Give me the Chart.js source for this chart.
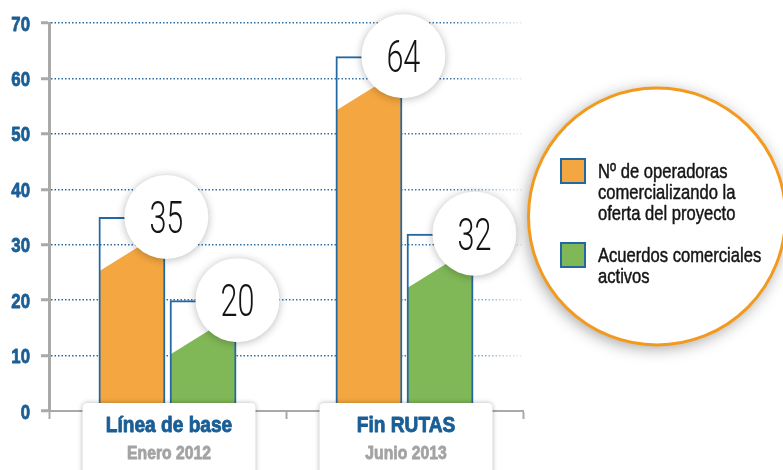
<!DOCTYPE html>
<html>
<head>
<meta charset="utf-8">
<script src="https://cdn.jsdelivr.net/npm/chart.js@4"></script>
<style>
  html, body { margin: 0; padding: 0; background: #fff; }
  #wrap { width: 783px; height: 470px; position: relative; }
</style>
</head>
<body>
<div id="wrap"><canvas id="myChart" width="783" height="470"></canvas></div>
<script>
// data
const categories = ['Línea de base', 'Fin RUTAS'];
const periods = ['Enero 2012', 'Junio 2013'];
const operadoras = [35, 64];
const acuerdos = [20, 32];
const seriesLabels = [
    ['Nº de operadoras', 'comercializando la', 'oferta del proyecto'],
    ['Acuerdos comerciales', 'activos']
];
const yTicks = [0, 10, 20, 30, 40, 50, 60, 70];

const ORANGE = '#f4a640';
const GREEN = '#80b757';
const BLUE = '#2468a2';
const LABEL_BLUE = '#1a5e96';
const GRAY = '#a9a9a9';
const SANS = '"Liberation Sans", Arial, sans-serif';

// no condensed face is installed, so squeeze text horizontally
// (heavy > 0 adds a thin outline to fake a blacker weight)
function narrowText(ctx, text, x, y, font, color, squeeze, align, heavy) {
    ctx.save();
    ctx.font = font;
    ctx.fillStyle = color;
    ctx.textAlign = align || 'left';
    ctx.textBaseline = 'alphabetic';
    ctx.translate(x, y);
    ctx.scale(squeeze, 1);
    ctx.fillText(text, 0, 0);
    if (heavy) {
        ctx.strokeStyle = color;
        ctx.lineWidth = heavy;
        ctx.lineJoin = 'round';
        ctx.strokeText(text, 0, 0);
    }
    ctx.restore();
}

// fill of each bar stops below the top and slants up under the value bubble
const barFill = {
    id: 'barFill',
    beforeDatasetsDraw(chart) {
        const ctx = chart.ctx;
        const colors = [ORANGE, GREEN];
        chart.data.datasets.forEach((ds, i) => {
            chart.getDatasetMeta(i).data.forEach(bar => {
                const left = bar.x - bar.width / 2 + 1;
                const right = bar.x + bar.width / 2 - 1;
                const yl = bar.y + 54;
                const yr = yl - (right - left) * 0.62;
                ctx.save();
                ctx.fillStyle = colors[i];
                ctx.beginPath();
                ctx.moveTo(left, bar.base);
                ctx.lineTo(left, yl);
                ctx.lineTo(right, yr);
                ctx.lineTo(right, bar.base);
                ctx.closePath();
                ctx.fill();
                ctx.restore();
            });
        });
    },
    afterDatasetsDraw(chart) {
        const ctx = chart.ctx;
        chart.data.datasets.forEach((ds, i) => {
            chart.getDatasetMeta(i).data.forEach((bar, j) => {
                const cx = bar.x + bar.width / 2 + 1;
                const cy = bar.y;
                ctx.save();
                ctx.shadowColor = 'rgba(0,0,0,0.28)';
                ctx.shadowBlur = 9;
                ctx.shadowOffsetY = 1;
                ctx.fillStyle = '#fff';
                ctx.beginPath();
                ctx.arc(cx, cy, 42, 0, Math.PI * 2);
                ctx.fill();
                ctx.restore();
                narrowText(ctx, String(ds.data[j]), cx, cy + 16,
                    '300 45px Roboto, ' + SANS, '#141414', 0.68, 'center');
            });
        });
    }
};

// y tick labels, from the scale's own ticks
const yLabels = {
    id: 'yLabels',
    afterDraw(chart) {
        const ys = chart.scales.y;
        ys.ticks.forEach(t => {
            narrowText(chart.ctx, String(t.value), 30, ys.getPixelForValue(t.value) + 7.5,
                'bold 21px ' + SANS, LABEL_BLUE, 0.8, 'right', 0.8);
        });
    }
};

function roundRect(ctx, x, y, w, h, r) {
    ctx.beginPath();
    ctx.moveTo(x + r, y);
    ctx.lineTo(x + w - r, y);
    ctx.quadraticCurveTo(x + w, y, x + w, y + r);
    ctx.lineTo(x + w, y + h);
    ctx.lineTo(x, y + h);
    ctx.lineTo(x, y + r);
    ctx.quadraticCurveTo(x, y, x + r, y);
    ctx.closePath();
}

// category label boxes and the round legend
const decorations = {
    id: 'decorations',
    afterDraw(chart) {
        const ctx = chart.ctx;
        const xs = chart.scales.x;
        const bottom = chart.chartArea.bottom;

        categories.forEach((cat, i) => {
            const cx = xs.getPixelForValue(i) + 1.5;
            ctx.save();
            ctx.shadowColor = 'rgba(0,0,0,0.3)';
            ctx.shadowBlur = 5;
            ctx.fillStyle = '#fff';
            roundRect(ctx, cx - 86.5, bottom - 8, 173, 80, 5);
            ctx.fill();
            ctx.restore();
            narrowText(ctx, cat, cx, bottom + 21, 'bold 22.5px ' + SANS, LABEL_BLUE, 0.85, 'center', 0.9);
            narrowText(ctx, periods[i], cx, bottom + 48, 'bold 18.5px ' + SANS, '#a3a3a3', 0.85, 'center', 0.8);
        });

        // legend bubble
        ctx.save();
        ctx.shadowColor = 'rgba(0,0,0,0.38)';
        ctx.shadowBlur = 16;
        ctx.shadowOffsetX = -2;
        ctx.shadowOffsetY = 3;
        ctx.fillStyle = '#fff';
        ctx.beginPath();
        ctx.arc(657, 216.5, 128.5, 0, Math.PI * 2);
        ctx.fill();
        ctx.restore();
        ctx.save();
        ctx.strokeStyle = '#f39a1e';
        ctx.lineWidth = 3;
        ctx.beginPath();
        ctx.arc(657, 216.5, 128.5, 0, Math.PI * 2);
        ctx.stroke();
        ctx.restore();

        const swatch = [ORANGE, GREEN];
        const tops = [158, 242];
        seriesLabels.forEach((lines, i) => {
            ctx.save();
            ctx.fillStyle = swatch[i];
            ctx.fillRect(560, tops[i], 26, 26);
            ctx.strokeStyle = BLUE;
            ctx.lineWidth = 2;
            ctx.strokeRect(561, tops[i] + 1, 24, 24);
            ctx.restore();
            lines.forEach((ln, k) => {
                narrowText(ctx, ln, 598, tops[i] + 20 + k * 21, '21px ' + SANS, '#151515', 0.79, 'left', 0.5);
            });
        });
    }
};

const data = {
    labels: categories,
    datasets: [
        {
            label: seriesLabels[0].join(' '),
            data: operadoras,
            backgroundColor: 'rgba(0,0,0,0)',
            borderColor: BLUE,
            borderWidth: 2,
            borderSkipped: 'bottom'
        },
        {
            label: seriesLabels[1].join(' '),
            data: acuerdos,
            backgroundColor: 'rgba(0,0,0,0)',
            borderColor: BLUE,
            borderWidth: 2,
            borderSkipped: 'bottom'
        }
    ]
};

const config = {
    type: 'bar',
    data: data,
    options: {
        responsive: false,
        animation: false,
        layout: {
            padding: { top: 23, right: 260, left: 0, bottom: 0 }
        },
        categoryPercentage: 0.6,
        barPercentage: 0.94,
        plugins: {
            legend: { display: false },
            tooltip: { enabled: false },
            title: { display: false }
        },
        scales: {
            x: {
                afterFit: function (scale) { scale.height = 59; },
                ticks: { display: false },
                grid: {
                    offset: true,
                    drawOnChartArea: false,
                    drawTicks: true,
                    tickLength: 8,
                    tickColor: GRAY,
                    tickWidth: 2,
                    color: GRAY
                },
                border: { color: GRAY, width: 2 }
            },
            y: {
                min: 0,
                max: 70,
                afterFit: function (scale) { scale.width = 49; },
                afterBuildTicks: function (scale) {
                    scale.ticks = yTicks.map(v => ({ value: v }));
                },
                ticks: { display: false },
                grid: {
                    // dotted lines fading out to the right
                    color: function (c) {
                        const area = c.chart.chartArea;
                        if (!area) return BLUE;
                        const g = c.chart.ctx.createLinearGradient(area.left, 0, area.right, 0);
                        g.addColorStop(0, 'rgba(36,104,162,1)');
                        g.addColorStop(0.85, 'rgba(36,104,162,0.9)');
                        g.addColorStop(1, 'rgba(36,104,162,0.1)');
                        return g;
                    },
                    lineWidth: 1.5,
                    tickLength: 8,
                    tickColor: GRAY,
                    tickWidth: 3
                },
                border: { color: GRAY, width: 3, dash: [1.5, 2] }
            }
        }
    },
    plugins: [barFill, yLabels, decorations]
};

window.myChart = new Chart(document.getElementById('myChart'), config);
</script>
</body>
</html>
